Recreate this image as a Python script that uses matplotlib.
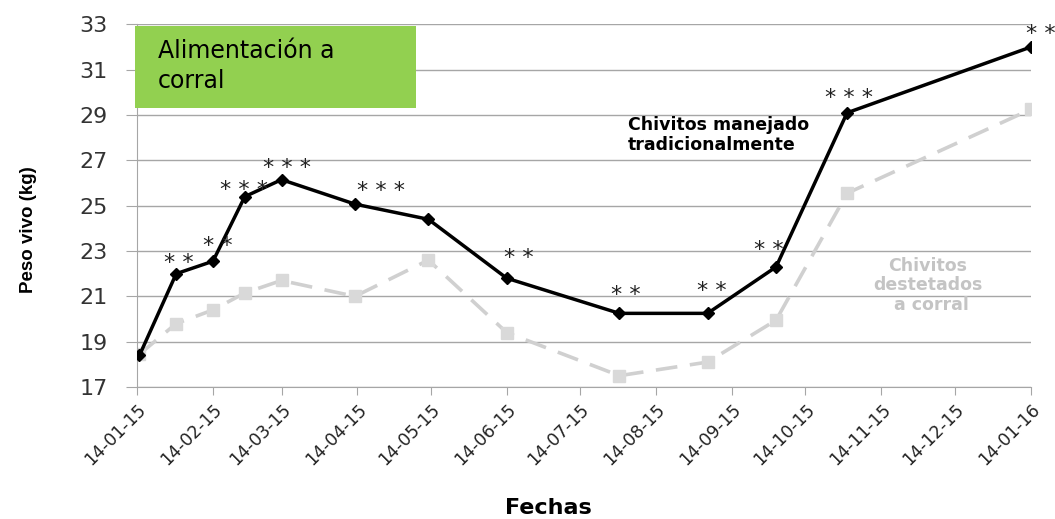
import datetime as dt
import matplotlib
matplotlib.use('Agg')
import matplotlib.pyplot as plt
import matplotlib.dates as mdates
from matplotlib.patches import Rectangle

# fechas de pesaje
fechas = ['2015-01-15', '2015-01-30', '2015-02-14', '2015-02-27', '2015-03-14',
          '2015-04-13', '2015-05-13', '2015-06-14', '2015-07-30', '2015-09-04',
          '2015-10-02', '2015-10-31', '2016-01-14']
tradicional = [18.4, 22.0, 22.55, 25.4, 26.15, 25.07, 24.4, 21.8, 20.25, 20.25,
               22.3, 29.1, 32.0]
destetados = [18.45, 19.8, 20.4, 21.15, 21.7, 21.0, 22.6, 19.4, 17.5, 18.1,
              19.95, 25.55, 29.25]
signif = ['', '**', '**', '***', '***', '***', '', '**', '**', '**', '**', '***', '**']
tick_fechas = ['2015-%02d-14' % m for m in range(1, 13)] + ['2016-01-14']

x = [dt.datetime.strptime(f, '%Y-%m-%d') for f in fechas]
xt = [dt.datetime.strptime(f, '%Y-%m-%d') for f in tick_fechas]

fig = plt.figure(figsize=(10.55, 5.19), dpi=100)
ax = fig.add_axes([0.1299, 0.2543, 0.977 - 0.1299, 0.953 - 0.2543])

ax.plot(x, destetados, color='#D0D0D0', lw=2.6, dashes=(6, 3.5),
        marker='s', ms=9, mfc='#D9D9D9', mec='#D9D9D9', zorder=2)
ax.plot(x, tradicional, color='black', lw=2.5, marker='D', ms=6.5, zorder=3)

# asteriscos: desplazamiento (px) del centro respecto al punto
ast_pos = {1: (3, 15), 2: (5, 19), 3: (-1, 11), 4: (5, 16), 5: (26, 17),
           7: (12, 24), 8: (6, 22), 9: (4, 26), 10: (-7, 21), 11: (2, 19),
           12: (10, 17)}
for i, s in enumerate(signif):
    if not s:
        continue
    dx, dy = ast_pos[i]
    ax.annotate(' '.join(s), (x[i], tradicional[i]), xytext=(dx, dy - 14),
                textcoords='offset pixels', ha='center', va='bottom',
                fontsize=16, color='#222222', annotation_clip=False, zorder=4)

ax.set_xlim(xt[0], xt[-1])
ax.set_ylim(17, 33)
ax.set_yticks(range(17, 34, 2))
ax.set_xticks(xt)
ax.xaxis.set_major_formatter(mdates.DateFormatter('%d-%m-%y'))
ax.grid(axis='y', color='#A6A6A6', lw=1)
ax.set_axisbelow(True)
for sp in ['top', 'right']:
    ax.spines[sp].set_visible(False)
ax.spines['left'].set_color('#A6A6A6')
ax.spines['bottom'].set_color('#A6A6A6')
ax.tick_params(axis='y', length=8, color='#A6A6A6', labelsize=16,
               labelcolor='#333333', pad=13)
ax.tick_params(axis='x', length=6, color='#A6A6A6', labelsize=12.5,
               labelcolor='#222222')
plt.setp(ax.get_xticklabels(), rotation=45, ha='right', rotation_mode='anchor')

fig.text(0.027, 1 - 230 / 519, 'Peso vivo (kg)', rotation=90, fontsize=13.5,
         fontweight='bold', family='Liberation Sans', ha='center', va='center')
fig.text(548 / 1055, 1 - 508 / 519, 'Fechas', fontsize=16, fontweight='bold',
         ha='center', va='center')

fig.patches.append(Rectangle((135 / 1055, 1 - 108 / 519), 281 / 1055, 82 / 519,
                             transform=fig.transFigure, fc='#92D050', ec='none',
                             zorder=5))
fig.text(158 / 1055, 1 - 88 / 519, 'Alimentación a\ncorral', fontsize=17,
         va='baseline', ha='left', linespacing=1.3, zorder=6)

ax.text(0.549, 0.695, 'Chivitos manejado\ntradicionalmente', transform=ax.transAxes,
        fontsize=12.5, fontweight='bold', ha='left', va='center',
        linespacing=1.1)
ax.text(0.885, 0.281, 'Chivitos\ndestetados\n a corral', transform=ax.transAxes,
        fontsize=12.5, fontweight='bold', color='#C4C4C4',
        ha='center', va='center', linespacing=1.1)

fig.savefig('out.png', dpi=100)
